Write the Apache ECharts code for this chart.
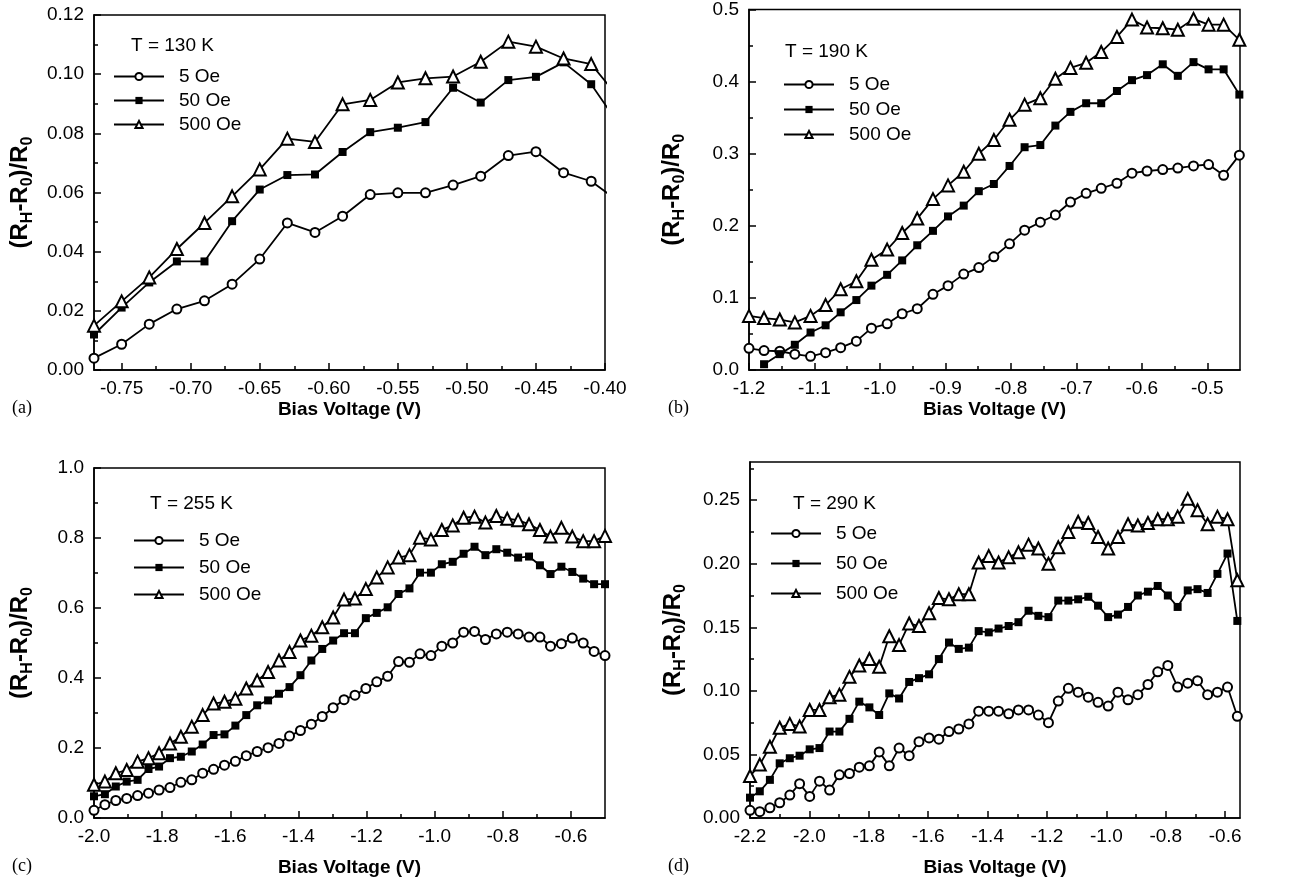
<!DOCTYPE html>
<html>
<head>
<meta charset="utf-8">
<script src="https://cdn.jsdelivr.net/npm/echarts@6.0.0/dist/echarts.min.js"></script>
<style>
  html, body { margin: 0; padding: 0; background: #ffffff; }
  #chart { width: 1293px; height: 881px; }
</style>
</head>
<body>
<div id="chart"></div>
<script>
// ---------- (a) T = 130 K ----------
const biasA = [-0.77, -0.75, -0.73, -0.71, -0.69, -0.67, -0.65, -0.63, -0.61, -0.59,
               -0.57, -0.55, -0.53, -0.51, -0.49, -0.47, -0.45, -0.43, -0.41, -0.39];
const a5   = [0.004, 0.0087, 0.0155, 0.0206, 0.0234, 0.029, 0.0375, 0.0497, 0.0465, 0.052,
              0.0593, 0.0599, 0.0599, 0.0625, 0.0655, 0.0725, 0.0738, 0.0667, 0.0638, 0.057];
const a50  = [0.012, 0.0211, 0.0296, 0.0367, 0.0367, 0.0503, 0.061, 0.0659, 0.0661, 0.0737,
              0.0804, 0.0819, 0.0838, 0.0954, 0.0904, 0.098, 0.0991, 0.104, 0.0966, 0.083];
const a500 = [0.015, 0.0232, 0.0313, 0.0409, 0.0497, 0.0587, 0.0678, 0.0782, 0.0771, 0.0898,
              0.0913, 0.0972, 0.0986, 0.0992, 0.1042, 0.111, 0.1093, 0.1053, 0.1034, 0.092];

// ---------- (b) T = 190 K ----------
const biasB = [-1.200, -1.177, -1.153, -1.130, -1.106, -1.083, -1.060, -1.036, -1.013, -0.989,
               -0.966, -0.943, -0.919, -0.896, -0.872, -0.849, -0.826, -0.802, -0.779, -0.755,
               -0.732, -0.709, -0.685, -0.662, -0.638, -0.615, -0.592, -0.568, -0.545, -0.521,
               -0.498, -0.475, -0.451];
const b5   = [0.030, 0.027, 0.026, 0.022, 0.019, 0.024, 0.031, 0.040, 0.058, 0.064,
              0.078, 0.085, 0.105, 0.117, 0.133, 0.142, 0.157, 0.175, 0.194, 0.205,
              0.215, 0.233, 0.245, 0.252, 0.259, 0.273, 0.276, 0.278, 0.280, 0.283,
              0.285, 0.270, 0.298];
const b50  = [null, 0.008, 0.022, 0.035, 0.052, 0.062, 0.080, 0.097, 0.117, 0.132,
              0.152, 0.173, 0.193, 0.213, 0.228, 0.248, 0.258, 0.283, 0.309, 0.312,
              0.339, 0.358, 0.370, 0.370, 0.387, 0.402, 0.409, 0.424, 0.408, 0.427,
              0.417, 0.417, 0.382];
const b500 = [0.075, 0.072, 0.070, 0.066, 0.075, 0.090, 0.112, 0.123, 0.153, 0.167,
              0.190, 0.210, 0.237, 0.256, 0.275, 0.300, 0.319, 0.347, 0.368, 0.377,
              0.404, 0.419, 0.426, 0.441, 0.462, 0.486, 0.475, 0.474, 0.472, 0.487,
              0.479, 0.479, 0.458];

// ---------- (c) T = 255 K ----------
const biasC = [-2.000, -1.968, -1.936, -1.904, -1.872, -1.840, -1.809, -1.777, -1.745, -1.713,
               -1.681, -1.649, -1.617, -1.585, -1.553, -1.521, -1.489, -1.457, -1.426, -1.394,
               -1.362, -1.330, -1.298, -1.266, -1.234, -1.202, -1.170, -1.138, -1.106, -1.074,
               -1.043, -1.011, -0.979, -0.947, -0.915, -0.883, -0.851, -0.819, -0.787, -0.755,
               -0.723, -0.691, -0.660, -0.628, -0.596, -0.564, -0.532, -0.500];
const c5   = [0.022, 0.038, 0.050, 0.056, 0.064, 0.071, 0.080, 0.087, 0.102, 0.109,
              0.128, 0.139, 0.151, 0.162, 0.178, 0.190, 0.201, 0.213, 0.234, 0.250,
              0.268, 0.290, 0.315, 0.338, 0.351, 0.370, 0.389, 0.405, 0.447, 0.445,
              0.469, 0.464, 0.491, 0.500, 0.531, 0.533, 0.510, 0.526, 0.531, 0.526,
              0.517, 0.517, 0.491, 0.498, 0.514, 0.500, 0.476, 0.464];
const c50  = [0.062, 0.068, 0.090, 0.104, 0.109, 0.140, 0.147, 0.171, 0.175, 0.190,
              0.210, 0.237, 0.239, 0.264, 0.294, 0.322, 0.336, 0.355, 0.374, 0.408,
              0.450, 0.483, 0.507, 0.528, 0.528, 0.571, 0.586, 0.602, 0.640, 0.656,
              0.701, 0.701, 0.725, 0.732, 0.755, 0.775, 0.751, 0.768, 0.758, 0.744,
              0.747, 0.722, 0.697, 0.718, 0.703, 0.684, 0.668, 0.668];
const c500 = [0.095, 0.104, 0.128, 0.137, 0.161, 0.171, 0.185, 0.213, 0.232, 0.261,
              0.294, 0.327, 0.332, 0.341, 0.370, 0.393, 0.417, 0.450, 0.474, 0.507,
              0.521, 0.545, 0.573, 0.624, 0.627, 0.654, 0.687, 0.716, 0.744, 0.751,
              0.801, 0.796, 0.823, 0.836, 0.858, 0.861, 0.844, 0.863, 0.855, 0.851,
              0.839, 0.823, 0.804, 0.829, 0.804, 0.791, 0.791, 0.806];

// ---------- (d) T = 290 K ----------
const biasD = [-2.200, -2.167, -2.133, -2.100, -2.066, -2.033, -1.999, -1.966, -1.932, -1.899,
               -1.865, -1.832, -1.798, -1.765, -1.731, -1.698, -1.664, -1.631, -1.597, -1.564,
               -1.530, -1.497, -1.463, -1.430, -1.396, -1.363, -1.329, -1.296, -1.262, -1.229,
               -1.195, -1.162, -1.128, -1.095, -1.061, -1.028, -0.994, -0.961, -0.927, -0.894,
               -0.860, -0.827, -0.793, -0.760, -0.726, -0.693, -0.659, -0.626, -0.592, -0.559];
const d5   = [0.006, 0.005, 0.008, 0.012, 0.018, 0.027, 0.017, 0.029, 0.022, 0.034,
              0.035, 0.040, 0.041, 0.052, 0.041, 0.055, 0.049, 0.060, 0.063, 0.062,
              0.068, 0.070, 0.074, 0.084, 0.084, 0.084, 0.082, 0.085, 0.085, 0.081,
              0.075, 0.092, 0.102, 0.099, 0.095, 0.091, 0.088, 0.099, 0.093, 0.097,
              0.105, 0.115, 0.120, 0.103, 0.106, 0.108, 0.097, 0.099, 0.103, 0.080];
const d50  = [0.016, 0.021, 0.030, 0.043, 0.047, 0.049, 0.054, 0.055, 0.068, 0.068,
              0.078, 0.0915, 0.087, 0.081, 0.098, 0.094, 0.107, 0.110, 0.113, 0.125,
              0.138, 0.133, 0.134, 0.147, 0.146, 0.149, 0.151, 0.154, 0.163, 0.159,
              0.158, 0.171, 0.171, 0.172, 0.174, 0.167, 0.158, 0.160, 0.166, 0.175,
              0.178, 0.1825, 0.175, 0.166, 0.179, 0.180, 0.177, 0.192, 0.208, 0.155];
const d500 = [0.033, 0.042, 0.056, 0.071, 0.074, 0.072, 0.085, 0.085, 0.095, 0.097,
              0.111, 0.120, 0.125, 0.119, 0.143, 0.136, 0.153, 0.151, 0.161, 0.173,
              0.172, 0.176, 0.176, 0.201, 0.206, 0.201, 0.205, 0.209, 0.215, 0.212,
              0.200, 0.213, 0.225, 0.233, 0.232, 0.221, 0.212, 0.221, 0.231, 0.230,
              0.232, 0.235, 0.235, 0.237, 0.251, 0.242, 0.231, 0.237, 0.235, 0.187];

// ---------- tick labels (major) and minor tick positions ----------
const xTicksA = [-0.75, -0.70, -0.65, -0.60, -0.55, -0.50, -0.45, -0.40];
const xMinorA = [-0.725, -0.675, -0.625, -0.575, -0.525, -0.475, -0.425];
const yTicksA = [0.00, 0.02, 0.04, 0.06, 0.08, 0.10, 0.12];
const yMinorA = [0.01, 0.03, 0.05, 0.07, 0.09, 0.11];

const xTicksB = [-1.2, -1.1, -1.0, -0.9, -0.8, -0.7, -0.6, -0.5];
const xMinorB = [-1.15, -1.05, -0.95, -0.85, -0.75, -0.65, -0.55];
const yTicksB = [0.0, 0.1, 0.2, 0.3, 0.4, 0.5];
const yMinorB = [0.05, 0.15, 0.25, 0.35, 0.45];

const xTicksC = [-2.0, -1.8, -1.6, -1.4, -1.2, -1.0, -0.8, -0.6];
const xMinorC = [-1.9, -1.7, -1.5, -1.3, -1.1, -0.9, -0.7];
const yTicksC = [0.0, 0.2, 0.4, 0.6, 0.8, 1.0];
const yMinorC = [0.1, 0.3, 0.5, 0.7, 0.9];

const xTicksD = [-2.2, -2.0, -1.8, -1.6, -1.4, -1.2, -1.0, -0.8, -0.6];
const xMinorD = [-2.1, -1.9, -1.7, -1.5, -1.3, -1.1, -0.9, -0.7];
const yTicksD = [0.00, 0.05, 0.10, 0.15, 0.20, 0.25];
const yMinorD = [0.025, 0.075, 0.125, 0.175, 0.225, 0.275];

const fieldNames = ['5 Oe', '50 Oe', '500 Oe'];
const temperatures = ['T = 130 K', 'T = 190 K', 'T = 255 K', 'T = 290 K'];
const panelTags = ['(a)', '(b)', '(c)', '(d)'];
const xTitle = 'Bias Voltage (V)';

// ---------- fonts and panel layout ----------
const SANS = "'Liberation Sans', Arial, Helvetica, sans-serif";
const SERIF = "'Liberation Serif', 'Times New Roman', serif";

const panels = [
  { grid: { left: 94, top: 15, width: 511, height: 355 }, xr: [-0.77, -0.40], yr: [0, 0.12],
    xt: xTicksA, xm: xMinorA, yt: yTicksA, ym: yMinorA, xd: 2, yd: 2,
    x: biasA, ys: [a5, a50, a500], xNameGap: 30, yNameGap: 58,
    temp: [131, 36], legend: [113, 67, 5], tag: [12, 399] },
  { grid: { left: 749, top: 9, width: 491, height: 361 }, xr: [-1.2, -0.45], yr: [0, 0.5],
    xt: xTicksB, xm: xMinorB, yt: yTicksB, ym: yMinorB, xd: 1, yd: 1,
    x: biasB, ys: [b5, b50, b500], xNameGap: 30, yNameGap: 61,
    temp: [785, 42], legend: [783, 75, 6], tag: [668, 399] },
  { grid: { left: 94, top: 468, width: 511, height: 350 }, xr: [-2.0, -0.5], yr: [0, 1.0],
    xt: xTicksC, xm: xMinorC, yt: yTicksC, ym: yMinorC, xd: 1, yd: 1,
    x: biasC, ys: [c5, c50, c500], xNameGap: 40, yNameGap: 58,
    temp: [150, 494], legend: [133, 531, 8], tag: [12, 857] },
  { grid: { left: 750, top: 462, width: 490, height: 356 }, xr: [-2.2, -0.55], yr: [0, 0.28],
    xt: xTicksD, xm: xMinorD, yt: yTicksD, ym: yMinorD, xd: 1, yd: 2,
    x: biasD, ys: [d5, d50, d500], xNameGap: 40, yNameGap: 61,
    temp: [793, 494], legend: [770, 524, 11], tag: [668, 857] }
];

// marker style for each applied field
const markers = [
  { symbol: 'circle', size: 9, itemStyle: { color: '#ffffff', borderColor: '#000000', borderWidth: 2 } },
  { symbol: 'rect', size: 8, itemStyle: { color: '#000000', borderColor: '#000000', borderWidth: 0 } },
  { symbol: 'triangle', size: 12, itemStyle: { color: '#ffffff', borderColor: '#000000', borderWidth: 2 } }
];

const tickLine = { color: '#000000', width: 1.5 };
const grids = [], xAxes = [], yAxes = [], series = [], titles = [], legends = [];

panels.forEach((p, k) => {
  grids.push(Object.assign({ show: true, borderColor: '#000000', borderWidth: 1.5,
                             backgroundColor: 'transparent' }, p.grid));

  const xMain = xAxes.length;
  xAxes.push({
    type: 'value', gridIndex: k, min: p.xr[0], max: p.xr[1], position: 'bottom',
    axisLine: { show: true, onZero: false, lineStyle: tickLine },
    axisTick: { show: true, inside: true, length: 7, lineStyle: tickLine, customValues: p.xt },
    axisLabel: { customValues: p.xt, formatter: v => v.toFixed(p.xd), color: '#000000',
                 fontSize: 19, fontFamily: SANS, margin: 9 },
    splitLine: { show: false },
    name: xTitle, nameLocation: 'middle', nameGap: p.xNameGap,
    nameTextStyle: { fontSize: 19, fontWeight: 'bold', color: '#000000', fontFamily: SANS }
  });
  xAxes.push({
    type: 'value', gridIndex: k, min: p.xr[0], max: p.xr[1], position: 'bottom',
    axisLine: { show: false, onZero: false },
    axisTick: { show: true, inside: true, length: 4, lineStyle: tickLine, customValues: p.xm },
    axisLabel: { show: false }, splitLine: { show: false }
  });

  const yMain = yAxes.length;
  yAxes.push({
    type: 'value', gridIndex: k, min: p.yr[0], max: p.yr[1], position: 'left',
    axisLine: { show: true, onZero: false, lineStyle: tickLine },
    axisTick: { show: true, inside: true, length: 7, lineStyle: tickLine, customValues: p.yt },
    axisLabel: { customValues: p.yt, formatter: v => v.toFixed(p.yd), color: '#000000',
                 fontSize: 19, fontFamily: SANS, margin: 10 },
    splitLine: { show: false },
    name: '{m|(R}{s|H}{m|-R}{s|0}{m|)/R}{s|0}', nameLocation: 'middle', nameRotate: 90,
    nameGap: p.yNameGap,
    nameTextStyle: {
      rich: {
        m: { fontSize: 24, fontWeight: 'bold', color: '#000000', fontFamily: SANS, lineHeight: 31 },
        s: { fontSize: 16, fontWeight: 'bold', color: '#000000', fontFamily: SANS,
             lineHeight: 16, verticalAlign: 'bottom' }
      }
    }
  });
  yAxes.push({
    type: 'value', gridIndex: k, min: p.yr[0], max: p.yr[1], position: 'left',
    axisLine: { show: false, onZero: false },
    axisTick: { show: true, inside: true, length: 4, lineStyle: tickLine, customValues: p.ym },
    axisLabel: { show: false }, splitLine: { show: false }
  });

  p.ys.forEach((vals, j) => {
    const m = markers[j];
    series.push({
      type: 'line', name: fieldNames[j], xAxisIndex: xMain, yAxisIndex: yMain,
      data: p.x.map((xv, i) => [xv, vals[i]]),
      symbol: m.symbol, symbolSize: m.size, showAllSymbol: true, clip: true,
      connectNulls: false, animation: false,
      lineStyle: { color: '#000000', width: 1.8 },
      itemStyle: m.itemStyle,
      emphasis: { disabled: true }
    });
  });

  titles.push({
    text: temperatures[k], left: p.temp[0], top: p.temp[1], padding: 0,
    textStyle: { fontSize: 19, fontWeight: 'normal', color: '#000000', fontFamily: SANS }
  });
  titles.push({
    text: panelTags[k], left: p.tag[0], top: p.tag[1], padding: 0,
    textStyle: { fontSize: 18, fontWeight: 'normal', color: '#000000', fontFamily: SERIF }
  });

  legends.push({
    orient: 'vertical', left: p.legend[0], top: p.legend[1], padding: 0,
    itemWidth: 50, itemHeight: 9, itemGap: p.legend[2], selectedMode: false,
    data: fieldNames,
    textStyle: { fontSize: 19, color: '#000000', fontFamily: SANS, lineHeight: 19,
                 padding: [0, 0, 0, 10] }
  });
});

const chart = echarts.init(document.getElementById('chart'), null, { renderer: 'canvas' });
chart.setOption({
  backgroundColor: '#ffffff',
  animation: false,
  title: titles,
  legend: legends,
  grid: grids,
  xAxis: xAxes,
  yAxis: yAxes,
  series: series
});
</script>
</body>
</html>
